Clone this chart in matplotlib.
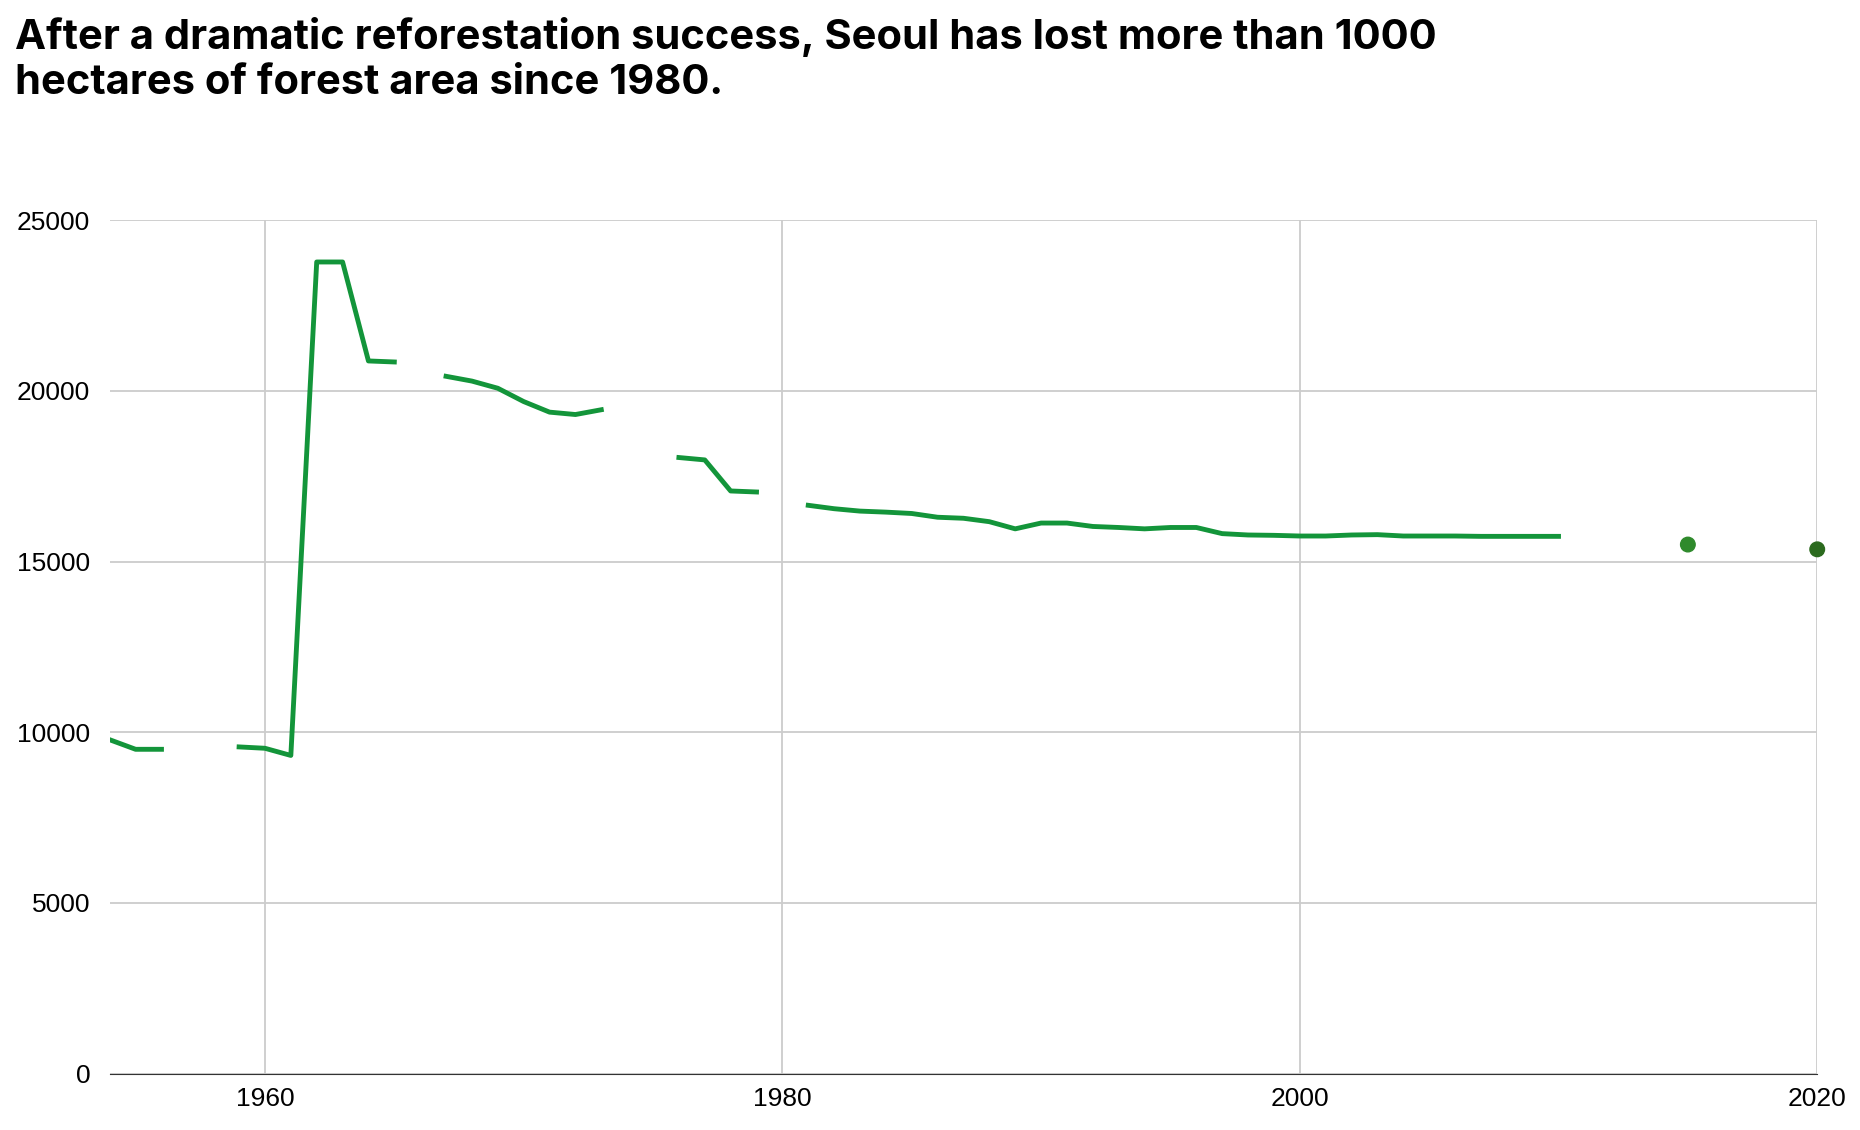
import numpy as np
import matplotlib.pyplot as plt

# forest area of Seoul (hectares), NaN = no data
years = list(range(1954, 2011))
area = [9780, 9500, 9500, np.nan, np.nan, 9570, 9530, 9320, 23780, 23780,
        20880, 20850, np.nan, 20430, 20290, 20080, 19690, 19380, 19310, 19450,
        np.nan, np.nan, 18050, 17980, 17070, 17040, np.nan, 16650, 16550, 16480,
        16450, 16410, 16300, 16270, 16170, 15960, 16130, 16130, 16030, 16000,
        15960, 16000, 16000, 15820, 15780, 15770, 15750, 15750, 15780, 15790,
        15750, 15750, 15750, 15740, 15740, 15740, 15740]
dot_years = [2015, 2020]
dot_area = [15500, 15360]
dot_colors = ['#2f8a2c', '#2b6a1e']

plt.rcParams['font.family'] = ['Liberation Sans', 'DejaVu Sans']

fig = plt.figure(figsize=(18.6, 11.3), dpi=100)
ax = fig.add_axes([0.059, 0.05, 0.918, 0.755])

ax.plot(years, area, color='#13953a', lw=3.5)
ax.scatter(dot_years, dot_area, color=dot_colors, s=110, zorder=3, clip_on=False)

ax.set_xlim(1954, 2020)
ax.set_ylim(0, 25000)
ax.set_xticks([1960, 1980, 2000, 2020])
ax.set_yticks(range(0, 25001, 5000))
ax.grid(True, color='#cccccc', lw=1.3)
for s in ['top', 'right', 'left']:
    ax.spines[s].set_visible(False)
ax.spines['bottom'].set_color('#333333')
ax.tick_params(length=0, labelsize=19, pad=10)
ax.tick_params(axis='y', pad=14)

fig.text(0.008, 0.985, "After a dramatic reforestation success, Seoul has lost more than 1000\n"
         "hectares of forest area since 1980.", fontsize=30, fontweight='bold',
         family=['Inter', 'DejaVu Sans'], va='top', ha='left', linespacing=1.25)

fig.savefig('out.png')
